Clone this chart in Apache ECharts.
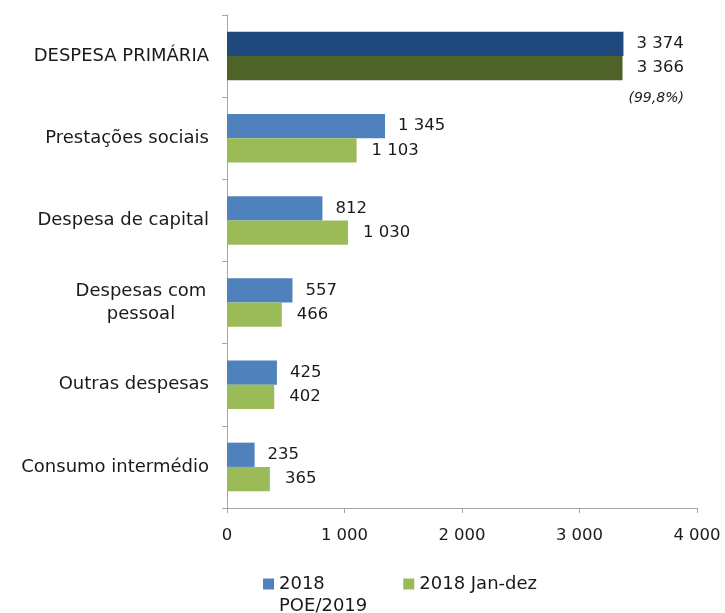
<!DOCTYPE html>
<html>
<head>
<meta charset="utf-8">
<script src="https://cdn.jsdelivr.net/npm/echarts@6/dist/echarts.min.js"></script>
<style>
  html, body { margin: 0; padding: 0; background: #fff; }
  #chart { width: 725px; height: 613px; }
</style>
</head>
<body>
<div id="chart"></div>
<script>
const categories = ['DESPESA PRIMÁRIA', 'Prestações sociais', 'Despesa de capital', 'Despesas com pessoal', 'Outras despesas', 'Consumo intermédio']
const poe2019 = [3374, 1345, 812, 557, 425, 235]
const janDez = [3366, 1103, 1030, 466, 402, 365]
const execRate = '(99,8%)'
const seriesNames = ['2018 POE/2019', '2018 Jan-dez']

const font = 'DejaVu Sans'
const textColor = '#1a1a1a'
const axisColor = '#a6a6a6'

function fmt(v) {
  return String(v).replace(/\B(?=(\d{3})+(?!\d))/g, ' ')
}

const chart = echarts.init(document.getElementById('chart'))

chart.setOption({
  animation: false,
  backgroundColor: '#fff',
  textStyle: { fontFamily: font, color: textColor },
  grid: { left: 227, right: 28, top: 15, bottom: 105 },
  legend: {
    left: 263,
    top: 551,
    padding: 0,
    itemWidth: 11,
    itemHeight: 11,
    itemGap: 36,
    icon: 'rect',
    data: seriesNames,
    formatter: function(name) {
      // middle line sits beside the icon, like the original
      if (name === seriesNames[0]) return '\n2018\nPOE/2019'
      return '\n' + name + '\n'
    },
    textStyle: { fontFamily: font, fontSize: 18, color: textColor, lineHeight: 22 }
  },
  xAxis: {
    type: 'value',
    min: 0,
    max: 4000,
    interval: 1000,
    splitLine: { show: false },
    axisLine: { show: true, lineStyle: { color: axisColor } },
    axisTick: { show: true, length: 5, lineStyle: { color: axisColor } },
    axisLabel: { fontFamily: font, fontSize: 16.5, color: textColor, margin: 19, formatter: fmt }
  },
  yAxis: {
    type: 'category',
    inverse: true,
    data: categories,
    axisLine: { show: true, lineStyle: { color: axisColor } },
    axisTick: { show: true, length: 5, lineStyle: { color: axisColor } },
    axisLabel: {
      fontFamily: font,
      fontSize: 18,
      color: textColor,
      margin: 18,
      formatter: function(v) {
        if (v === 'Despesas com pessoal') return '{c|Despesas com}\n{c|pessoal}'
        return v
      },
      rich: {
        c: { fontFamily: font, fontSize: 18, color: textColor, width: 136, align: 'center', lineHeight: 23 }
      }
    }
  },
  series: [{
    name: seriesNames[0],
    type: 'bar',
    barGap: '0%',
    barCategoryGap: '41%',
    itemStyle: { color: '#4f81bd' },
    label: {
      show: true,
      position: 'right',
      distance: 13,
      fontFamily: font,
      fontSize: 16.5,
      color: textColor,
      formatter: p => fmt(p.value)
    },
    data: poe2019.map((v, i) => i === 0 ? { value: v, itemStyle: { color: '#1f497d' } } : v)
  }, {
    name: seriesNames[1],
    type: 'bar',
    itemStyle: { color: '#9bbb59' },
    label: {
      show: true,
      position: 'right',
      distance: 15,
      fontFamily: font,
      fontSize: 16.5,
      color: textColor,
      formatter: p => fmt(p.value)
    },
    data: janDez.map((v, i) => i === 0 ? {
      value: v,
      itemStyle: { color: '#4f6228' },
      label: {
        distance: 6,
        offset: [0, 20],
        formatter: p => '{v|' + fmt(p.value) + '}\n{r|' + execRate + '}',
        rich: {
          v: { fontFamily: font, fontSize: 16.5, color: textColor, lineHeight: 20, align: 'right' },
          r: { fontFamily: font, fontSize: 14, fontStyle: 'italic', color: textColor, lineHeight: 40, align: 'right' }
        }
      }
    } : v)
  }]
})
</script>
</body>
</html>
